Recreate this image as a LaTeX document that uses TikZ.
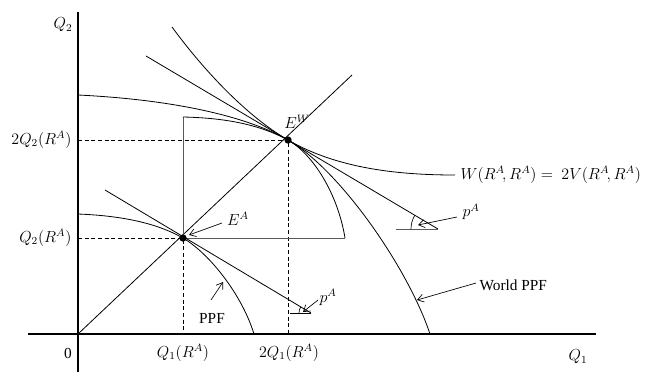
\documentclass[tikz,border=0pt]{standalone}
\usepackage{fontspec}
\setmainfont{Liberation Serif}
\usetikzlibrary{arrows.meta,calc}
\begin{document}
\begin{tikzpicture}[x=0.75pt,y=-0.75pt,
  every node/.style={font=\fontsize{11.5}{13}\selectfont, inner sep=1pt},
  curve/.style={line width=0.6pt},
  trade/.style={line width=0.7pt, black!65},
  axis/.style={line width=0.8pt},
  dashline/.style={line width=0.55pt, dash pattern=on 3pt off 2pt},
  ptr/.style={-{Straight Barb[length=4.5pt,width=6pt]}, line width=0.5pt},
  dot/.style={circle, fill=black, inner sep=0pt, minimum size=5.5pt}]
\useasboundingbox (0,0) rectangle (648,375);
% key points
\coordinate (O) at (78,334);
\coordinate (ray) at (352,75);
\coordinate (yTop) at (78,12);
\coordinate (yBot) at (78,372);
\coordinate (xL) at (28,334);
\coordinate (xR) at (596,334);
% axes
\draw[axis] (yTop) -- (yBot);
\draw[line width=1.6pt] (78,12) -- (78,43);
\draw[line width=1.6pt] (78,334) -- (yBot);
\draw[axis] (xL) -- (xR);
% ray from origin
\draw[curve] (O) -- (ray);
% dashed guides
\coordinate (EAy) at (78,238);
\coordinate (EAx) at (183,334);
\coordinate (EWy) at (78,140);
\coordinate (EWx) at (288,334);
\draw[dashline] (EAy) -- (183,238) -- (EAx);
\draw[dashline] (EWy) -- (288,140) -- (EWx);
% trading triangle and shifted PPF
\coordinate (Top) at (183,117);
\coordinate (Right) at (345,238);
\draw[trade] (Top) -- (183,238) -- (Right);
\draw[curve] (Top) .. controls (230,118) and (262,126) .. (288,140)
  .. controls (314,155) and (338,195) .. (Right);
% country PPF
\coordinate (ppfA) at (78,214);
\coordinate (ppfB) at (254,334);
\draw[curve] (ppfA) .. controls (128,216) and (160,225) .. (183,238)
  .. controls (210,254) and (242,295) .. (ppfB);
% world PPF
\coordinate (wA) at (78,95);
\coordinate (wB) at (430,334);
\draw[curve] (wA) .. controls (180,100) and (250,118) .. (288,140)
  .. controls (340,170) and (408,268) .. (wB);
% indifference curve
\coordinate (iA) at (172,27);
\coordinate (iB) at (455,175);
\draw[curve] (iA) .. controls (205,72) and (248,117) .. (288,140)
  .. controls (338,169) and (400,175) .. (iB);
% world price line
\coordinate (pwA) at (146,56);
\coordinate (pwB) at (438,229);
\coordinate (pwH) at (396,229);
\draw[curve] (pwA) -- (pwB);
\draw[trade] (pwH) -- (pwB);
\draw[line width=0.5pt] ($(pwB)+(-27,0)$) arc[start angle=180, end angle=149.5, radius=20.25pt];
% country price line
\coordinate (paA) at (105,190);
\coordinate (paB) at (311,313);
\coordinate (paH) at (290,313);
\draw[curve] (paA) -- (paB);
\draw[curve] (paH) -- (paB);
\draw[line width=0.5pt] ($(paB)+(-12,0)$) arc[start angle=180, end angle=149.2, radius=9pt];
% equilibrium points
\node[dot] (EA) at (183,238) {};
\node[dot] (EW) at (288,140) {};
% axis labels
\node[anchor=east] (lQ2) at (74,25) {$Q_2$};
\node[anchor=east] (l2Q2) at (73,140) {$2Q_2(R^A)$};
\node[anchor=east] (lQ2R) at (73,238) {$Q_2(R^A)$};
\node (l0) at (68,353) {0};
\node (lQ1R) at (183,353) {$Q_1(R^A)$};
\node (l2Q1) at (289,353) {$2Q_1(R^A)$};
\node (lQ1) at (578,357) {$Q_1$};
% other labels
\node (lEW) at (297,122) {$E^W$};
\node (lEA) at (238,219) {$E^A$};
\draw[ptr] (222,223) -- (189,235);
\node[anchor=west] (lW) at (459,175) {$W(R^A\!,R^A) =\ 2V(R^A\!,R^A)$};
\node[anchor=west] (lpw) at (461,212) {$p^A$};
\draw[ptr] (457,217) -- (418,225);
\node[anchor=west] (lpa) at (318,297) {$p^A$};
\draw[ptr] (318,300) -- (303,312);
\node (lPPF) at (212,318) {PPF};
\draw[ptr] (211,300) -- (223,282);
\node[anchor=west] (lWPPF) at (478,285) {World PPF};
\draw[ptr] (476,283) -- (417,300);
\end{tikzpicture}
\end{document}
